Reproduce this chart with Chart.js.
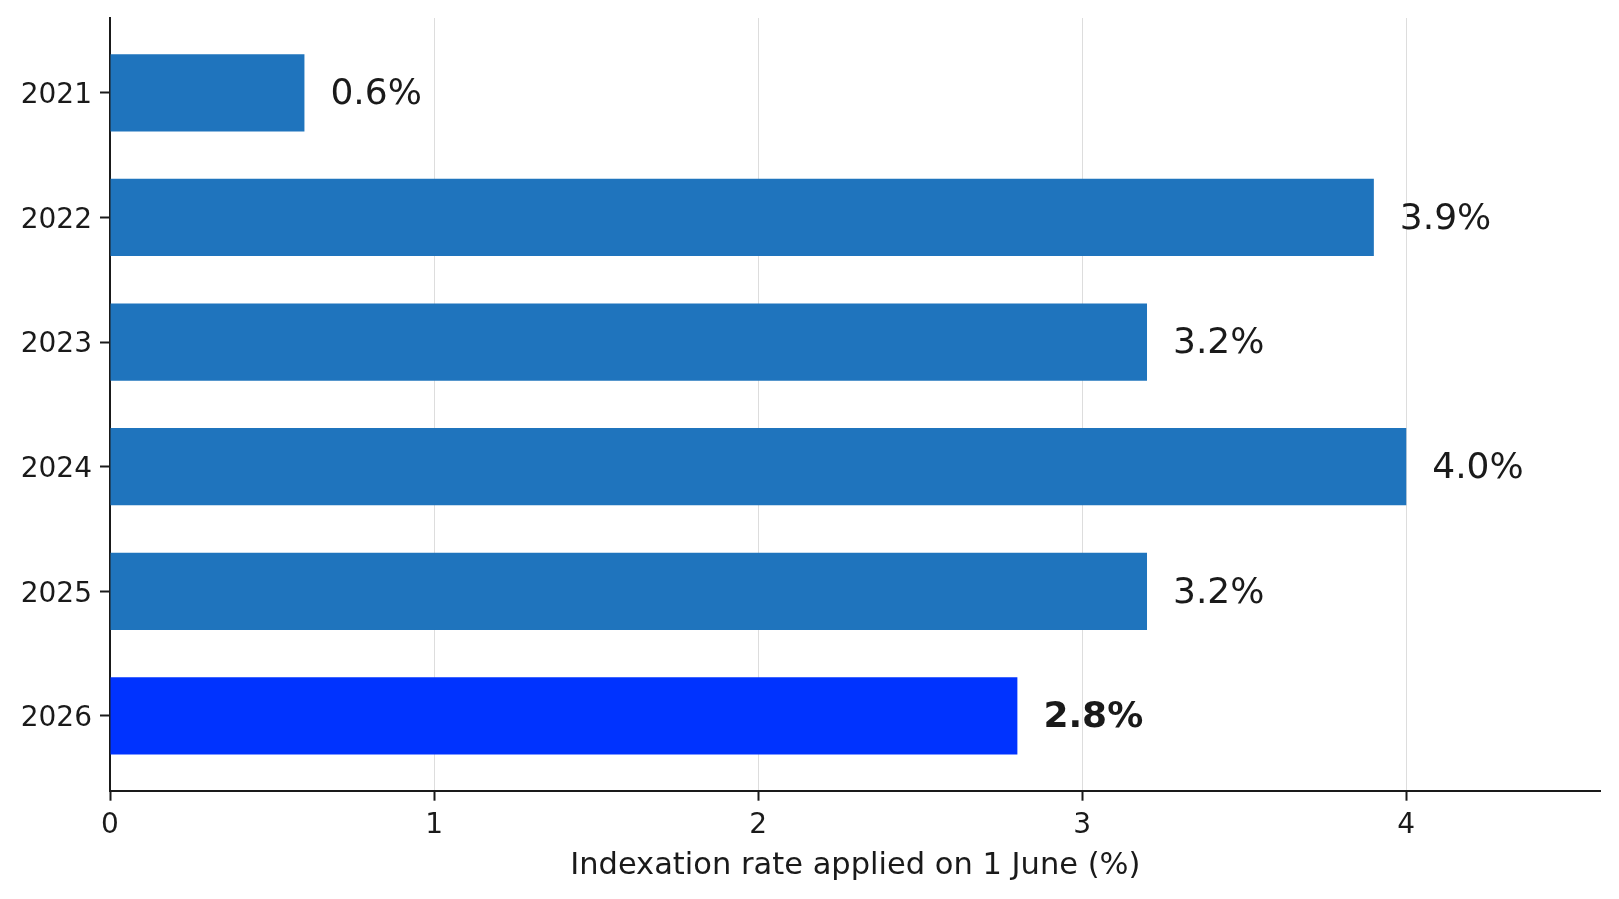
<!DOCTYPE html>
<html>
<head>
<meta charset="utf-8">
<script src="https://cdn.jsdelivr.net/npm/chart.js@4"></script>
<style>
    body { margin: 0; background: #ffffff; }
    canvas { display: block; }
</style>
</head>
<body>
<canvas id="myChart" width="1619" height="899"></canvas>
<script>
// Years shown on the y axis (top to bottom)
const years = ["2021", "2022", "2023", "2024", "2025", "2026"];

// Indexation rate applied on 1 June (%)
const rates = [0.6, 3.9, 3.2, 4.0, 3.2, 2.8];

// Which year is highlighted (latest one)
const highlighted = [false, false, false, false, false, true];

// X axis ticks
const xTicks = [0, 1, 2, 3, 4];

const textColor = '#1a1a1a';
const axisColor = '#1a1a1a';

// draws the "x.x%" text to the right of each bar
const barLabels = {
    id: 'barLabels',
    afterDatasetsDraw(chart) {
        const ctx = chart.ctx;
        const meta = chart.getDatasetMeta(0);
        ctx.save();
        ctx.fillStyle = textColor;
        ctx.textAlign = 'left';
        ctx.textBaseline = 'middle';
        meta.data.forEach((bar, i) => {
            const weight = highlighted[i] ? 'bold ' : '';
            ctx.font = weight + '36px "DejaVu Sans"';
            ctx.fillText(rates[i].toFixed(1) + '%', bar.x + 26, bar.y + 2);
        });
        ctx.restore();
    }
};

const ctx = document.getElementById("myChart").getContext("2d");

new Chart(ctx, {
    type: 'bar',
    data: {
        datasets: [{
            data: years.map((year, i) => ({ x: rates[i], y: i })),
            backgroundColor: highlighted.map(h => h ? '#0033ff' : '#1f74bd'),
            borderWidth: 0,
            categoryPercentage: 1,
            barPercentage: 0.62
        }]
    },
    options: {
        indexAxis: 'y',
        responsive: false,
        animation: false,
        devicePixelRatio: 1,
        layout: {
            padding: { left: 0, top: 18, right: 18.3, bottom: 0 }
        },
        plugins: {
            legend: { display: false },
            tooltip: { enabled: false }
        },
        scales: {
            x: {
                type: 'linear',
                min: 0,
                max: 4.6,
                afterFit: scale => { scale.height = 108.3; },
                afterBuildTicks: scale => {
                    scale.ticks = xTicks.map(v => ({ value: v }));
                },
                ticks: {
                    color: textColor,
                    font: { family: 'DejaVu Sans', size: 28, lineHeight: 1 },
                    padding: 11,
                    maxRotation: 0
                },
                grid: {
                    color: '#dddddd',
                    lineWidth: 1,
                    tickColor: axisColor,
                    tickWidth: 2,
                    tickLength: 10
                },
                border: { color: axisColor, width: 2 },
                title: {
                    display: true,
                    text: 'Indexation rate applied on 1 June (%)',
                    color: textColor,
                    font: { family: 'DejaVu Sans', size: 30.5, lineHeight: 1 },
                    padding: { top: 0, bottom: 17.25 }
                }
            },
            y: {
                type: 'linear',
                reverse: true,
                offset: false,
                min: -0.6,
                max: 5.6,
                afterFit: scale => {
                    scale.width = 110;
                    scale.paddingTop = 0;
                    scale.paddingBottom = 0;
                },
                afterBuildTicks: scale => {
                    scale.ticks = years.map((year, i) => ({ value: i }));
                },
                ticks: {
                    color: textColor,
                    font: { family: 'DejaVu Sans', size: 28, lineHeight: 1 },
                    padding: 8,
                    labelOffset: 3,
                    callback: value => years[value]
                },
                grid: {
                    offset: false,
                    drawOnChartArea: false,
                    tickColor: axisColor,
                    tickWidth: 2,
                    tickLength: 10
                },
                border: { color: axisColor, width: 2 }
            }
        }
    },
    plugins: [barLabels]
});
</script>
</body>
</html>
